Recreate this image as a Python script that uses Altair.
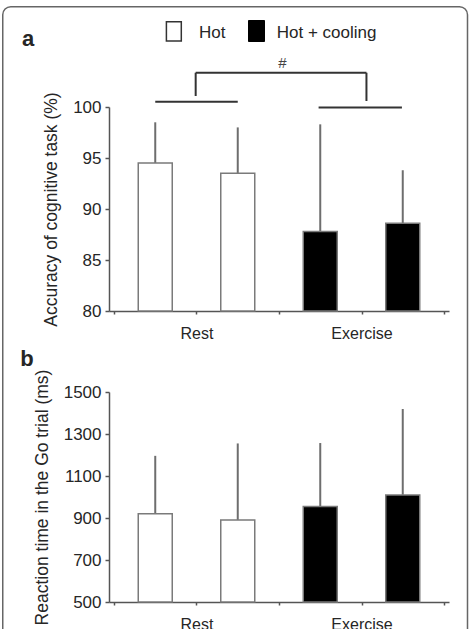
import altair as alt
import pandas as pd

# Four bars in plotting order, two per condition
condition = ["Rest", "Rest", "Exercise", "Exercise"]
accuracy_mean = [94.5, 93.5, 87.8, 88.6]      # accuracy of cognitive task, %
accuracy_top = [98.5, 98.0, 98.3, 93.8]       # mean + SD
rt_mean = [920, 891, 955, 1010]               # reaction time, ms
rt_top = [1196, 1255, 1257, 1419]             # mean + SD

group_labels = ["Rest", "Exercise"]
legend_labels = ["Hot", "Hot + cooling"]

acc_ticks = [80, 85, 90, 95, 100]
rt_ticks = [500, 700, 900, 1100, 1300, 1500]

FONT = "Liberation Sans"
INK = "#262626"
PANEL_W = 340

x_scale = alt.Scale(domain=[0, 4], nice=False, zero=False)
x_axis = alt.Axis(
    values=[0, 1, 2, 3, 4],
    labelExpr=(
        f"datum.value == 1 ? '{group_labels[0]}' : "
        f"datum.value == 3 ? '{group_labels[1]}' : ''"
    ),
    labelOverlap=False,
    labelFlush=False,
)


def bar_panel(mean, top, domain, ticks, height, title, title_x):
    df = pd.DataFrame({"slot": range(4), "condition": condition,
                       "mean": mean, "top": top})
    y_scale = alt.Scale(domain=domain, nice=False, zero=False)
    base = alt.Chart(df).transform_calculate(center="datum.slot + 0.5")
    bars = base.mark_bar(size=34, stroke="#7a7a7a", strokeWidth=1.5).encode(
        x=alt.X("center:Q", scale=x_scale, axis=x_axis, title=None),
        y=alt.Y("mean:Q", scale=y_scale,
                axis=alt.Axis(values=ticks, format="d", title=title, titleX=title_x,
                              titleY=height / 2, titleBaseline="alphabetic")),
        y2=alt.datum(domain[0]),
        fill=alt.Fill("condition:N",
                      scale=alt.Scale(domain=group_labels, range=["white", "black"]),
                      legend=None),
    )
    sd = base.mark_rule(color="#6e6e6e", strokeWidth=2).encode(
        x="center:Q", y="mean:Q", y2="top:Q"
    )
    return sd, bars


def label(text, x, y, **kw):
    return alt.Chart(pd.DataFrame({"t": [text]})).mark_text(
        font=FONT, color=INK, **kw
    ).encode(text="t:N", x=alt.value(x), y=alt.value(y))


# ---- panel a: accuracy ----
sd_a, bars_a = bar_panel(accuracy_mean, accuracy_top, [80, 100], acc_ticks, 204,
                         "Accuracy of cognitive task (%)", -52.5)

# comparison bracket between the two condition pairs
bracket = pd.DataFrame({
    "x":  [0.5, 2.48, 0.99, 0.99, 3.06],
    "x2": [1.5, 3.49, 0.99, 3.06, 3.06],
    "y":  [100.52, 99.95, 101.08, 103.36, 100.59],
    "y2": [100.52, 99.95, 103.36, 103.36, 103.36],
})
bracket_lines = alt.Chart(bracket).mark_rule(color="#333333", strokeWidth=2).encode(
    x="x:Q", x2="x2:Q", y="y:Q", y2="y2:Q"
)
hash_mark = alt.Chart(pd.DataFrame({"x": [2.04], "y": [104.3], "t": ["#"]})).mark_text(
    font=FONT, fontSize=15, color="#444444", baseline="middle"
).encode(x="x:Q", y="y:Q", text="t:N")

legend_white = alt.Chart(pd.DataFrame({"k": [0]})).mark_rect(
    fill="white", stroke="#333333", strokeWidth=1.5
).encode(x=alt.value(57.4), x2=alt.value(72.3), y=alt.value(-85.3), y2=alt.value(-66))
legend_black = alt.Chart(pd.DataFrame({"k": [0]})).mark_rect(
    fill="black", stroke="black", strokeWidth=1
).encode(x=alt.value(139.5), x2=alt.value(155.5), y=alt.value(-86.5), y2=alt.value(-65.5))
legend_hot = label(legend_labels[0], 90, -68.7, fontSize=17, align="left", baseline="alphabetic")
legend_cool = label(legend_labels[1], 167.7, -68.7, fontSize=17, align="left", baseline="alphabetic")

tag_a = label("a", -81, -61, fontSize=22, fontWeight="bold", align="center", baseline="alphabetic")

frame = alt.Chart(pd.DataFrame({"k": [0]})).mark_rect(
    filled=False, color="#666666", strokeWidth=1.5, cornerRadius=8
).encode(x=alt.value(-106.25), x2=alt.value(358.5), y=alt.value(-100.3), y2=alt.value(540))

panel_a = alt.layer(
    frame, sd_a, bars_a, bracket_lines, hash_mark,
    legend_white, legend_black, legend_hot, legend_cool, tag_a,
).properties(width=PANEL_W, height=204)

# ---- panel b: reaction time ----
sd_b, bars_b = bar_panel(rt_mean, rt_top, [500, 1500], rt_ticks, 210,
                         "Reaction time in the Go trial (ms)", -62)
tag_b = label("b", -82, -26, fontSize=22, fontWeight="bold", align="center", baseline="alphabetic")

panel_b = alt.layer(sd_b, bars_b, tag_b).properties(width=PANEL_W, height=210)

chart = (
    alt.vconcat(panel_a, panel_b, spacing=81, bounds="flush")
    .properties(padding={"left": 2, "top": 5, "right": 0, "bottom": 0},
                background="white")
    .configure_view(stroke=None)
    .configure_axis(
        grid=False, domainColor="#555555", tickColor="#555555",
        domainWidth=1.5, tickWidth=1.5,
        labelFont=FONT, labelColor=INK, titleFont=FONT, titleColor=INK,
        titleFontWeight="normal",
    )
    .configure_axisX(tickSize=3, labelPadding=11, labelFontSize=16)
    .configure_axisY(tickSize=4, labelPadding=4, labelFontSize=17, titleFontSize=17.5)
)

chart.save("out.html", embed_options={"renderer": "svg", "actions": False})
